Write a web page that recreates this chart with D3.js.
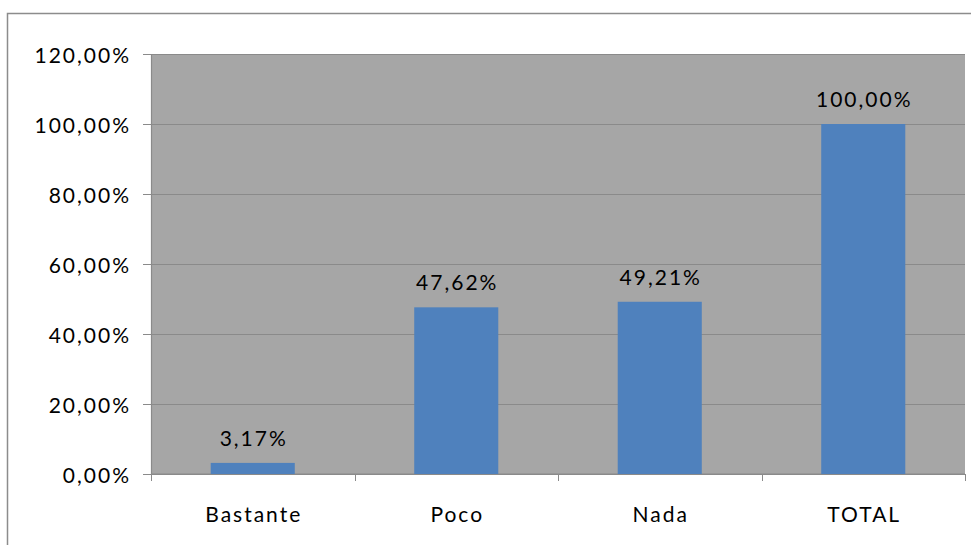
<!DOCTYPE html>
<meta charset="utf-8">
<script src="https://d3js.org/d3.v7.min.js"></script>
<style>
  body { margin: 0; background: #fff; }
  text { font-family: Lato, "Open Sans", sans-serif; fill: #000; font-size: 21px; letter-spacing: 2px; }
</style>
<div id="chart"></div>
<script>

// data
var categories = ["Bastante", "Poco", "Nada", "TOTAL"];
var values = [3.17, 47.62, 49.21, 100.00];
var yTicks = [0, 20, 40, 60, 80, 100, 120];

var W = 971, H = 545;
var margin = {top: 54, right: 6, bottom: 71, left: 151},
    width = W - margin.left - margin.right,
    height = H - margin.top - margin.bottom;
var ls = 2; // letter spacing, compensated on anchored text

var fmt = function(v) { return d3.format(".2f")(v).replace(".", ",") + "%"; };

var svg = d3.select("#chart").append("svg")
    .attr("width", W)
    .attr("height", H);

// outer chart border
svg.append("rect")
    .attr("x", 7.5).attr("y", 13.5)
    .attr("width", W).attr("height", H)
    .style("fill", "none")
    .style("stroke", "#8c8c8c")
    .style("stroke-width", 1.5);

var g = svg.append("g")
    .attr("transform", "translate(" + margin.left + "," + margin.top + ")");

var x = d3.scaleBand()
    .domain(categories)
    .range([0, width])
    .paddingInner(0.587)
    .paddingOuter(0.2935);

var y = d3.scaleLinear()
    .domain([0, 120])
    .range([height, 0]);

// plot area
g.append("rect")
    .attr("width", width)
    .attr("height", height)
    .style("fill", "#a6a6a6");

// gridlines
g.selectAll(".grid")
    .data(yTicks)
    .enter().append("line")
    .attr("x1", 0).attr("x2", width)
    .attr("y1", function(d) { return Math.round(y(d)) + 0.5; })
    .attr("y2", function(d) { return Math.round(y(d)) + 0.5; })
    .style("stroke", "#8a8a8a")
    .style("stroke-width", 1.2);

// y axis
var yAxis = g.append("g")
    .call(d3.axisLeft(y).tickValues(yTicks).tickSize(8).tickPadding(14).tickFormat(fmt));
yAxis.select(".domain").style("stroke", "#8a8a8a").style("stroke-width", 1.2);
yAxis.selectAll(".tick line").style("stroke", "#8a8a8a");
yAxis.selectAll(".tick text")
    .attr("dx", ls)
    .attr("dy", "0.42em");
yAxis.attr("font-size", null).attr("font-family", null);

// x axis: ticks at category boundaries
var xAxis = g.append("g")
    .attr("transform", "translate(0," + height + ")");
xAxis.append("line")
    .attr("x1", 0).attr("x2", width)
    .style("stroke", "#8a8a8a").style("stroke-width", 1.2);
xAxis.selectAll(".xtick")
    .data(d3.range(categories.length + 1))
    .enter().append("line")
    .attr("x1", function(i) { return Math.round(i * width / categories.length) + 0.5; })
    .attr("x2", function(i) { return Math.round(i * width / categories.length) + 0.5; })
    .attr("y1", 0).attr("y2", 7)
    .style("stroke", "#8a8a8a");
xAxis.selectAll(".xlabel")
    .data(categories)
    .enter().append("text")
    .attr("x", function(d) { return x(d) + x.bandwidth() / 2 + ls / 2; })
    .attr("y", 48)
    .attr("text-anchor", "middle")
    .text(function(d) { return d; });

// bars
g.selectAll(".bar")
    .data(values)
    .enter().append("rect")
    .attr("x", function(d, i) { return x(categories[i]); })
    .attr("width", x.bandwidth())
    .attr("y", function(d) { return y(d); })
    .attr("height", function(d) { return height - y(d); })
    .style("fill", "#4f81bd");

// value labels
g.selectAll(".val")
    .data(values)
    .enter().append("text")
    .attr("x", function(d, i) { return x(categories[i]) + x.bandwidth() / 2 + ls / 2; })
    .attr("y", function(d) { return y(d) - 17; })
    .attr("text-anchor", "middle")
    .text(fmt);

</script>
